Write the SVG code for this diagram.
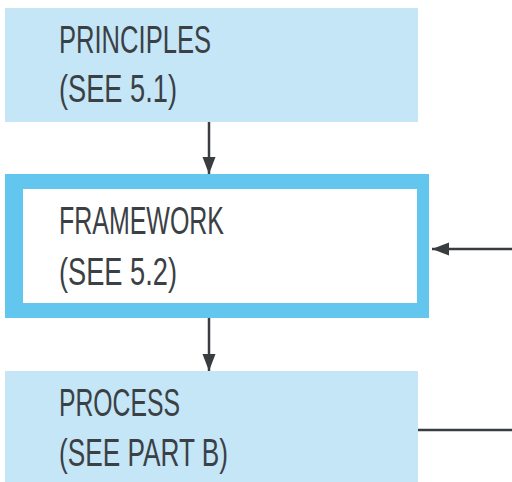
<svg xmlns="http://www.w3.org/2000/svg" width="512" height="482" viewBox="0 0 512 482">
  <defs>
    <style>
      .fill-box { fill: #c5e6f7; }
      .frame-outer { fill: #62c6ee; }
      .frame-inner { fill: #ffffff; }
      .label { font-family: "Liberation Sans Narrow", "Liberation Sans", "DejaVu Sans Condensed", sans-serif; font-size: 38px; fill: #3b4045; }
      .conn { stroke: #3a3d40; stroke-width: 2.5; fill: none; }
    </style>
    <marker id="arrow" markerUnits="userSpaceOnUse" markerWidth="18" markerHeight="14" refX="17" refY="6.5" orient="auto">
      <path d="M0,0 L17,6.5 L0,13 Z" fill="#3a3d40"/>
    </marker>
  </defs>
  <rect width="512" height="482" fill="#ffffff"/>

  <g id="principles">
    <rect class="fill-box" x="5" y="8" width="413" height="114"/>
    <text class="label" x="59" y="53" textLength="152" lengthAdjust="spacingAndGlyphs">PRINCIPLES</text>
    <text class="label" x="59" y="102" textLength="118" lengthAdjust="spacingAndGlyphs">(SEE 5.1)</text>
  </g>

  <g id="framework">
    <rect class="frame-outer" x="5" y="174" width="424" height="144"/>
    <rect class="frame-inner" x="23" y="189" width="394" height="114"/>
    <text class="label" x="59" y="234" textLength="165" lengthAdjust="spacingAndGlyphs">FRAMEWORK</text>
    <text class="label" x="59" y="285" textLength="118" lengthAdjust="spacingAndGlyphs">(SEE 5.2)</text>
  </g>

  <g id="process">
    <rect class="fill-box" x="5" y="371" width="413" height="111"/>
    <text class="label" x="59" y="416" textLength="121" lengthAdjust="spacingAndGlyphs">PROCESS</text>
    <text class="label" x="59" y="466" textLength="169" lengthAdjust="spacingAndGlyphs">(SEE PART B)</text>
  </g>

  <g id="connectors">
    <line class="conn" x1="209" y1="122" x2="209" y2="174" marker-end="url(#arrow)"/>
    <line class="conn" x1="209" y1="318" x2="209" y2="371" marker-end="url(#arrow)"/>
    <line class="conn" x1="512" y1="249" x2="432" y2="249" marker-end="url(#arrow)"/>
    <line class="conn" x1="418" y1="430" x2="512" y2="430"/>
  </g>
</svg>
